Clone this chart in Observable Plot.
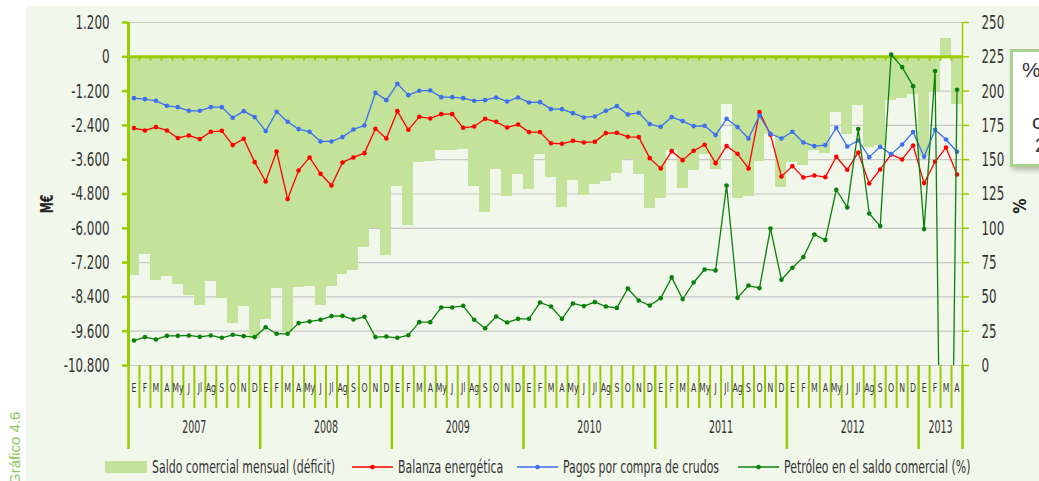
<!DOCTYPE html>
<html><head><meta charset="utf-8">
<script src="https://cdn.jsdelivr.net/npm/d3@7"></script>
<script src="https://cdn.jsdelivr.net/npm/@observablehq/plot@0.6"></script>
<style>
  html,body{margin:0;padding:0;}
  body{width:1039px;height:481px;overflow:hidden;position:relative;background:#fff;
       font-family:"Liberation Sans Narrow","DejaVu Sans Condensed","Arial Narrow",sans-serif;color:#333;}
  #panel{position:absolute;left:26px;top:6px;width:1013px;height:475px;background:#F2F7EB;}
  #chart{position:absolute;left:0;top:0;}
  #legend{position:absolute;left:0;top:452px;width:1039px;height:29px;}
  .li{position:absolute;top:4px;height:22px;display:flex;align-items:center;}
  .lt{font-size:17px;color:#333;white-space:nowrap;transform:scaleX(0.715);transform-origin:left center;}
  #grafico{position:absolute;left:6px;top:485px;transform-origin:0 0;transform:rotate(-90deg);
       font-family:"Liberation Sans",Arial,sans-serif;font-size:15px;color:#8CC85A;white-space:nowrap;}
  #note{position:absolute;left:1010px;top:49px;width:80px;height:112px;background:#fff;
       border:3px solid #A9D08E;box-shadow:2px 3px 5px rgba(0,0,0,0.25);
       font-family:"Liberation Sans",Arial,sans-serif;font-size:21px;line-height:21px;color:#333;}
  #note div{position:absolute;white-space:nowrap;}
</style>
</head><body>
<div id="panel"></div>
<div id="chart"></div>
<div id="legend"></div>
<div id="grafico">Gráfico 4.6</div>
<div id="note"><div style="left:9px;top:7px">% del</div><div style="left:19px;top:59px">con</div><div style="left:22px;top:82px">20</div></div>
<script>
// ---- data (January 2007 – April 2013, monthly) ----
const monthLabels = ["E","F","M","A","My","J","Jl","Ag","S","O","N","D"];
const years = ["2007","2008","2009","2010","2011","2012","2013"];
const leftTicks = [1200, 0, -1200, -2400, -3600, -4800, -6000, -7200, -8400, -9600, -10800];
const rightTicks = [250, 225, 200, 175, 150, 125, 100, 75, 50, 25, 0];

// Saldo comercial mensual (M€)
const saldo = [
  -7650,-6930,-7840,-7700,-7980,-8360,-8710,-7870,-8450,-9330,-8750,-9850,
  -9200,-8110,-9640,-8080,-8020,-8710,-8050,-7630,-7490,-6680,-5990,-6960,
  -4540,-5910,-3710,-3670,-3290,-3290,-3250,-4540,-5460,-3950,-4900,-4130,
  -4650,-3430,-4220,-5270,-4340,-4850,-4480,-4370,-4090,-3580,-4130,-5300,
  -4960,-3290,-4610,-3980,-3430,-3940,-1680,-4960,-4890,-3670,-2720,-4570,
  -3710,-3790,-3280,-3370,-1950,-2720,-1715,-3170,-3110,-1530,-1460,-1325,
  -3500,-1220,630,-1660];
// Balanza energética (M€)
const balanza = [
  -2495,-2577,-2460,-2577,-2845,-2752,-2880,-2624,-2589,-3090,-2868,-3685,
  -4361,-3311,-4979,-3976,-3521,-4093,-4501,-3696,-3521,-3370,-2519,-2857,
  -1901,-2554,-2099,-2157,-2006,-2006,-2484,-2437,-2169,-2274,-2472,-2367,
  -2635,-2635,-3025,-3043,-2938,-2997,-2973,-2670,-2658,-2798,-2810,-3545,
  -3906,-3300,-3615,-3288,-3078,-3720,-3125,-3393,-3906,-1936,-2728,-4186,
  -3825,-4221,-4151,-4210,-3498,-3953,-3346,-4431,-3941,-3416,-3591,-3102,
  -4419,-3673,-3172,-4116];
// Pagos por compra de crudos (M€)
const crudos = [
  -1446,-1481,-1539,-1714,-1761,-1889,-1889,-1761,-1761,-2134,-1901,-2110,
  -2600,-1924,-2274,-2530,-2624,-2962,-2962,-2810,-2542,-2402,-1259,-1516,
  -944,-1341,-1189,-1178,-1411,-1411,-1446,-1539,-1516,-1423,-1562,-1423,
  -1597,-1586,-1831,-1831,-1971,-2122,-2087,-1889,-1726,-2017,-1959,-2355,
  -2449,-2110,-2250,-2425,-2414,-2740,-2169,-2460,-2857,-2052,-2693,-2857,
  -2624,-2997,-3125,-3090,-2484,-3137,-2927,-3510,-3148,-3405,-3067,-2635,
  -3498,-2554,-2892,-3323];
// Petróleo en el saldo comercial (%)
const petroleo = [
  18.2,20.7,19.0,21.6,21.6,21.9,20.9,21.9,20.2,22.4,21.4,20.7,
  27.9,23.1,23.1,30.9,32.1,33.3,36.0,36.2,33.5,35.5,20.7,21.1,
  20.2,22.1,31.6,31.6,42.3,42.3,43.5,33.3,27.2,35.7,31.3,34.0,
  34.0,45.9,43.0,34.0,45.2,43.3,46.2,43.0,42.0,56.1,47.4,43.7,
  49.1,64.2,48.4,60.5,70.0,69.3,131.2,49.3,58.3,56.4,99.9,62.5,
  71.2,79.0,95.5,91.4,128.1,115.2,172.3,110.8,101.6,226.7,217.5,203.6,
  99.4,214.6,-450,201.0];

// ---- styling ----
const LIME = "#99CC00", BAR = "#C3E39B", RED = "#FF0000", BLUE = "#3D6FF0", GREEN = "#0A800A", TXT = "#333";
const FONT = '"Liberation Sans Narrow","DejaVu Sans Condensed","Arial Narrow",sans-serif';

// right (%) axis is aligned so that 225 % sits on 0 M€ and 0 % on -10.800 M€
const [lTop, lBot] = [0, -10800], [rTop, rBot] = [225, 0];
const pctToLeft = p => lBot + (p - rBot) * (lTop - lBot) / (rTop - rBot);
const leftToPct = v => rBot + (v - lBot) * (rTop - rBot) / (lTop - lBot);

const esFmt = d3.formatLocale({decimal: ",", thousands: ".", grouping: [3], currency: ["", "€"], minus: "-"}).format(",d");

const n = saldo.length;
const rows = saldo.map((v, i) => ({i, saldo: v, balanza: balanza[i], crudos: crudos[i], pct: pctToLeft(petroleo[i])}));
const monthCenters = d3.range(n).map(i => i + 0.5);
const yearBounds = years.map((y, k) => 12 * k).concat([n]);
const yearCenters = years.map((y, k) => (12 * k + Math.min(12 * k + 12, n)) / 2);
const monthBounds = d3.range(1, n).filter(i => i % 12 !== 0);

const chart = Plot.plot({
  width: 1039, height: 452,
  marginLeft: 128, marginRight: 77, marginTop: 22, marginBottom: 87,
  style: {fontFamily: FONT, background: "transparent", color: TXT, overflow: "visible"},
  x: {domain: [0, n], axis: null},
  y: {domain: [-10800, 1200], axis: null},
  marks: [
    Plot.gridY(leftTicks, {stroke: "#C6C6C6", strokeOpacity: 1, strokeWidth: 1.2}),
    Plot.rect(rows, {x1: d => d.i, x2: d => d.i + 1, y1: () => 0, y2: "saldo", fill: BAR, shapeRendering: "crispEdges"}),
    Plot.ruleX(monthBounds.concat(yearBounds.slice(1, -1)), {y1: () => 0, y2: () => -150, stroke: LIME, strokeWidth: 2}),
    Plot.ruleY([0], {stroke: LIME, strokeWidth: 3}),
    Plot.ruleX([0], {stroke: LIME, strokeWidth: 3}),
    Plot.ruleX([n], {stroke: LIME, strokeWidth: 1.5}),
    // left axis
    Plot.axisY(leftTicks, {anchor: "left", tickSize: 6, tickPadding: 13, tickFormat: esFmt, stroke: LIME, strokeWidth: 2.5, fill: TXT, fontSize: 20, label: null}),
    // right axis (%)
    Plot.axisY(rightTicks.map(pctToLeft), {anchor: "right", tickSize: 6, tickPadding: 13, tickFormat: v => String(Math.round(leftToPct(v))), stroke: LIME, strokeWidth: 1.5, fill: TXT, fontSize: 20, textAnchor: "start", label: null}),
    // month separators, year separators
    Plot.axisX(monthBounds, {anchor: "bottom", tickSize: 43, tickFormat: () => "", stroke: LIME, strokeWidth: 2, label: null}),
    Plot.axisX(yearBounds, {anchor: "bottom", tickSize: 84, tickFormat: () => "", stroke: LIME, strokeWidth: 2.5, label: null}),
    // month labels and year labels
    Plot.axisX(monthCenters, {anchor: "bottom", tickSize: 0, tickPadding: 17, tickFormat: d => monthLabels[Math.floor(d) % 12], fill: TXT, fontSize: 13, label: null}),
    Plot.axisX(yearCenters, {anchor: "bottom", tickSize: 0, tickPadding: 55, tickFormat: d => years[Math.floor(d / 12)], fill: TXT, fontSize: 17, label: null}),
    // series
    Plot.line(rows, {x: d => d.i + 0.5, y: "balanza", stroke: RED, strokeWidth: 1.3}),
    Plot.dot(rows, {x: d => d.i + 0.5, y: "balanza", fill: RED, r: 2.3}),
    Plot.line(rows, {x: d => d.i + 0.5, y: "crudos", stroke: BLUE, strokeWidth: 1.3}),
    Plot.dot(rows, {x: d => d.i + 0.5, y: "crudos", fill: BLUE, r: 2.3}),
    Plot.line(rows, {x: d => d.i + 0.5, y: "pct", stroke: GREEN, strokeWidth: 1.3, clip: true}),
    Plot.dot(rows, {x: d => d.i + 0.5, y: "pct", fill: GREEN, r: 2.3, clip: true}),
    // axis titles
    Plot.text(["M€"], {frameAnchor: "left", textAnchor: "middle", text: d => d, rotate: -90, dx: -81, dy: 10, fontSize: 17, fontWeight: "bold", fill: "#222"}),
    Plot.text(["%"], {frameAnchor: "right", textAnchor: "middle", text: d => d, rotate: -90, dx: 58, dy: 12, fontSize: 17, fontWeight: "bold", fill: "#222"})
  ]
});
document.getElementById("chart").appendChild(chart);

// condense the chart's text to mimic the narrow typeface of the original
chart.querySelectorAll("text").forEach(t => {
  const s = t.textContent.trim();
  if (!s) return;
  let k = 1;
  if (monthLabels.includes(s)) k = 0.66;
  else if (years.includes(s)) k = 0.62;
  else if (/^-?[\d.]+$/.test(s)) k = 0.66;
  else if (s === "M€") k = 0.72;
  if (k === 1) return;
  const len = t.getComputedTextLength();
  t.setAttribute("textLength", (len * k).toFixed(1));
  t.setAttribute("lengthAdjust", "spacingAndGlyphs");
});

// ---- legend ----
const legendItems = [
  {label: "Saldo comercial mensual (déficit)", color: BAR, kind: "bar", left: 105},
  {label: "Balanza energética", color: RED, kind: "line", left: 352},
  {label: "Pagos por compra de crudos", color: BLUE, kind: "line", left: 517},
  {label: "Petróleo en el saldo comercial (%)", color: GREEN, kind: "line", left: 738}
];
const legend = document.getElementById("legend");
for (const it of legendItems) {
  const el = document.createElement("div");
  el.className = "li";
  el.style.left = it.left + "px";
  const sw = it.kind === "bar"
    ? `<svg width="47" height="14"><rect x="0" y="1" width="42" height="12" fill="${it.color}"/></svg>`
    : `<svg width="46" height="14"><line x1="0" x2="41" y1="7" y2="7" stroke="${it.color}" stroke-width="1.3"/><circle cx="20.5" cy="7" r="2.3" fill="${it.color}"/></svg>`;
  el.innerHTML = sw + `<span class="lt">${it.label}</span>`;
  legend.appendChild(el);
}
</script>
</body></html>
